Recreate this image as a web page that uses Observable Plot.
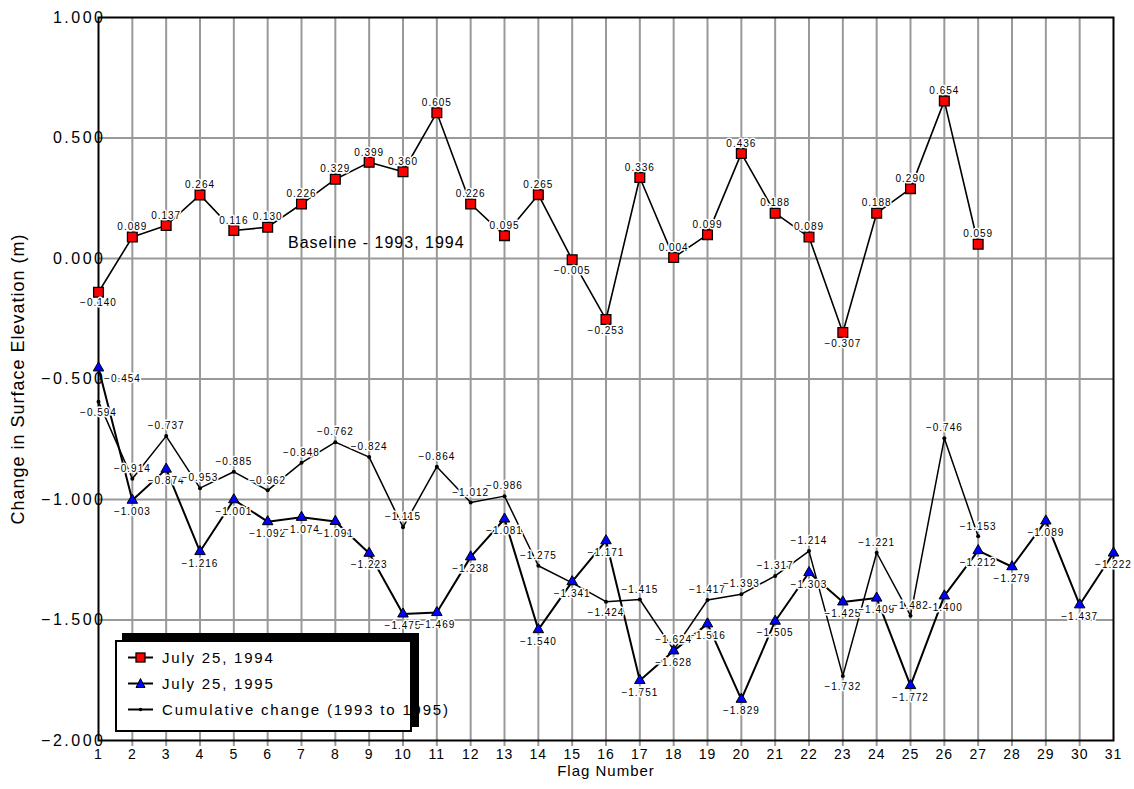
<!DOCTYPE html>
<html>
<head>
<meta charset="utf-8">
<script src="https://cdn.jsdelivr.net/npm/d3@7"></script>
<script src="https://cdn.jsdelivr.net/npm/@observablehq/plot@0.6"></script>
<style>
  body { margin: 0; background: #fff; font-family: "Liberation Sans", Arial, sans-serif; }
  #wrap { position: relative; width: 1134px; height: 789px; }
  #wrap > svg { position: absolute; left: 0; top: 0; }
  .lg-shadow { position: absolute; left: 122px; top: 633px; width: 297px; height: 94px; background: #000; z-index: 1; }
  .lg-box { position: absolute; left: 115px; top: 640px; width: 293px; height: 88px; border: 2px solid #000; background: #fff; z-index: 2; }
  .lg-strip { position: absolute; left: 412px; top: 633px; width: 7px; height: 94px; background: #000; z-index: 3; }
  .lg-row { position: absolute; left: 11px; height: 20px; display: flex; align-items: center; white-space: nowrap; }
  .lg-row svg { flex: none; display: block; }
  .lg-row span { margin-left: 9px; font-size: 15px; letter-spacing: 1.8px; color: #000; }
</style>
</head>
<body>
<div id="wrap"></div>
<script>
// ---------- data ----------
const flags = [1,2,3,4,5,6,7,8,9,10,11,12,13,14,15,16,17,18,19,20,21,22,23,24,25,26,27,28,29,30,31];
const val1994 = [-0.140, 0.089, 0.137, 0.264, 0.116, 0.130, 0.226, 0.329, 0.399, 0.360, 0.605, 0.226, 0.095, 0.265, -0.005, -0.253, 0.336, 0.004, 0.099, 0.436, 0.188, 0.089, -0.307, 0.188, 0.290, 0.654, 0.059];
const val1995 = [-0.454, -1.003, -0.874, -1.216, -1.001, -1.092, -1.074, -1.091, -1.223, -1.475, -1.469, -1.238, -1.081, -1.540, -1.341, -1.171, -1.751, -1.628, -1.516, -1.829, -1.505, -1.303, -1.425, -1.409, -1.772, -1.400, -1.212, -1.279, -1.089, -1.437, -1.222];
const valCum = [-0.594, -0.914, -0.737, -0.953, -0.885, -0.962, -0.848, -0.762, -0.824, -1.115, -0.864, -1.012, -0.986, -1.275, -1.346, -1.424, -1.415, -1.624, -1.417, -1.393, -1.317, -1.214, -1.732, -1.221, -1.482, -0.746, -1.153];
const yTicks = [-2, -1.5, -1, -0.5, 0, 0.5, 1];
const gridFlags = [2,3,4,5,6,7,8,9,10,11,12,13,14,15,16,17,18,19,20,21,22,23,24,25,26,27,28,29,30];
const gridVals = [-1.5, -1, -0.5, 0, 0.5];
const cumLabelBelow = [1, 16, 23];
const cumLabelHidden = [15];
const label1995Side = [1];
const seriesNames = ["July 25, 1994", "July 25, 1995", "Cumulative change (1993 to 1995)"];
const notes = [{flag: 6.6, value: 0.066, text: "Baseline - 1993, 1994"}];
const xTitle = "Flag Number";
const yTitle = "Change in Surface Elevation (m)";

// ---------- tables ----------
const d94 = val1994.map((v, i) => ({flag: flags[i], value: v}));
const d95 = val1995.map((v, i) => ({flag: flags[i], value: v}));
const dCum = valCum.map((v, i) => ({flag: flags[i], value: v}));
const fmt = d3.format(".3f");
const lbl = {fill: "black", stroke: "white", strokeWidth: 3, fontSize: 10, text: d => fmt(d.value), x: "flag", y: "value"};

const chart = Plot.plot({
  width: 1134, height: 789,
  marginLeft: 98, marginRight: 21, marginTop: 17, marginBottom: 49,
  x: {domain: [1, 31]},
  y: {domain: [-2, 1]},
  style: {fontFamily: '"Liberation Sans", Arial, sans-serif', background: "white", color: "black", letterSpacing: "1px"},
  marks: [
    Plot.ruleX(gridFlags, {x: d => d, stroke: "#999", strokeWidth: 2, insetBottom: -6}),
    Plot.ruleY(gridVals, {y: d => d, stroke: "#999", strokeWidth: 2}),
    Plot.frame({stroke: "black", strokeWidth: 2}),
    Plot.axisY({ticks: yTicks, tickFormat: fmt, tickSize: 0, tickPadding: -7, fontSize: 16, label: null}),
    Plot.axisX({ticks: flags, tickFormat: d => String(d), tickSize: 0, tickPadding: 9, fontSize: 14, label: null}),
    Plot.text([yTitle], {frameAnchor: "left", textAnchor: "middle", rotate: -90, dx: -80, fontSize: 18, ariaLabel: "ytitle"}),
    Plot.text([xTitle], {frameAnchor: "bottom", dy: 35, fontSize: 15}),
    Plot.text(notes, {x: "flag", y: "value", text: "text", textAnchor: "start", fontSize: 16}),
    Plot.line(d94, {x: "flag", y: "value", stroke: "black", strokeWidth: 1.6}),
    Plot.line(d95, {x: "flag", y: "value", stroke: "black", strokeWidth: 2}),
    Plot.line(dCum, {x: "flag", y: "value", stroke: "black", strokeWidth: 1.5}),
    Plot.dot(dCum, {x: "flag", y: "value", r: 2, fill: "black"}),
    Plot.dot(d94, {x: "flag", y: "value", symbol: "square", r: 5.5, fill: "#ff0000", stroke: "black", strokeWidth: 1.3}),
    Plot.dot(d95, {x: "flag", y: "value", symbol: "triangle", r: 3.9, fill: "#0000ff", stroke: "black", strokeWidth: 1}),
    Plot.text(d94.filter(d => d.value >= 0), {...lbl, dy: -10}),
    Plot.text(d94.filter(d => d.value < 0), {...lbl, dy: 11}),
    Plot.text(d95.filter(d => !label1995Side.includes(d.flag)), {...lbl, dy: 12}),
    Plot.text(d95.filter(d => label1995Side.includes(d.flag)), {...lbl, dy: 11, dx: 24}),
    Plot.text(dCum.filter(d => !cumLabelBelow.includes(d.flag) && !cumLabelHidden.includes(d.flag)), {...lbl, dy: -10}),
    Plot.text(dCum.filter(d => cumLabelBelow.includes(d.flag)), {...lbl, dy: 11})
  ]
});

d3.select(chart).selectAll('g[aria-label="y-axis tick label"] text').style("letter-spacing", "2.5px");
d3.select(chart).selectAll('g[aria-label="ytitle"] text').style("letter-spacing", "2px");

const wrap = document.getElementById("wrap");
wrap.appendChild(chart);

// ---------- legend ----------
const shadow = document.createElement("div"); shadow.className = "lg-shadow"; wrap.appendChild(shadow);
const box = document.createElement("div"); box.className = "lg-box"; wrap.appendChild(box);
const strip = document.createElement("div"); strip.className = "lg-strip"; wrap.appendChild(strip);
const swatches = [
  '<rect x="8" y="3" width="9" height="9" fill="#ff0000" stroke="#000" stroke-width="1.3"/>',
  '<path d="M12.5,2.5 L17,11.5 L8,11.5 Z" fill="#0000ff" stroke="#000" stroke-width="1"/>',
  '<circle cx="12.5" cy="7.5" r="1.8" fill="#000"/>'
];
seriesNames.forEach((name, i) => {
  const row = document.createElement("div");
  row.className = "lg-row";
  row.style.top = (5 + i * 26) + "px";
  row.innerHTML = '<svg width="25" height="15"><line x1="0" y1="7.5" x2="25" y2="7.5" stroke="#000" stroke-width="2"/>' + swatches[i] + '</svg><span>' + name + '</span>';
  box.appendChild(row);
});
</script>
</body>
</html>
